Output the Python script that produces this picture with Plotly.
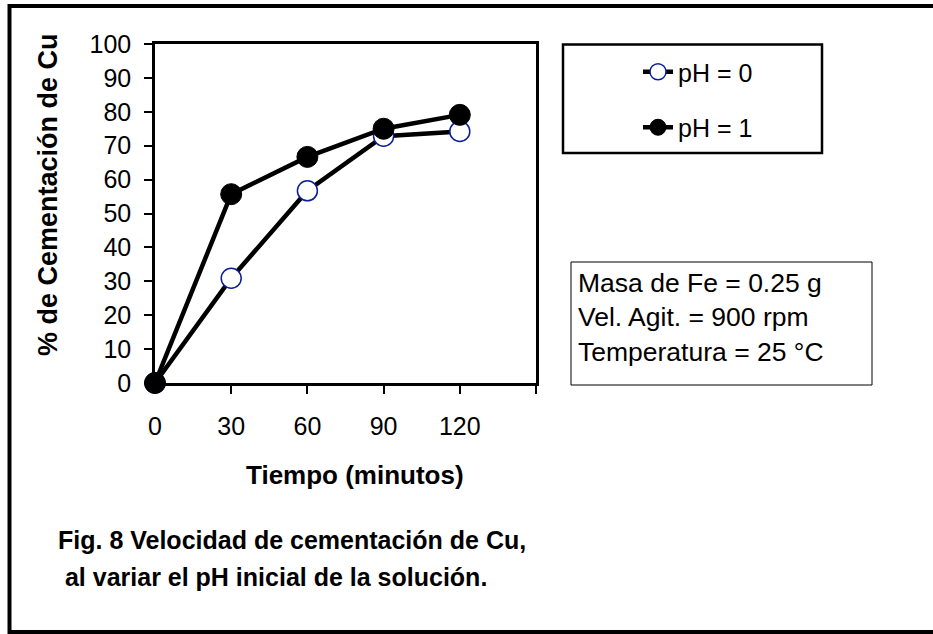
import plotly.graph_objects as go

tiempo = [0, 30, 60, 90, 120]
ph0 = [0, 30.9, 56.7, 72.8, 74.2]
ph1 = [0, 55.7, 66.7, 75.0, 79.1]
series_names = ["pH = 0", "pH = 1"]
x_ticks = [0, 30, 60, 90, 120, 150]
x_ticktext = ["0", "30", "60", "90", "120", ""]
y_ticks = list(range(0, 101, 10))

W, H = 933, 634
L, R, T, B = 155, 536, 44, 383  # plot area in pixels

def px(x):
    return (x - L) / (R - L)

def py(y):
    return (B - y) / (B - T)

FONT = "Arial, Liberation Sans, sans-serif"

fig = go.Figure()
fig.add_trace(go.Scatter(
    x=tiempo, y=ph0, name=series_names[0], mode="lines+markers",
    line=dict(color="black", width=4.5),
    marker=dict(symbol="circle", size=20, color="white",
                line=dict(color="#0a1e96", width=1.5)),
    legendgroup="a", cliponaxis=False))
fig.add_trace(go.Scatter(
    x=tiempo, y=ph1, name=series_names[1], mode="lines+markers",
    line=dict(color="black", width=4.5),
    marker=dict(symbol="circle", size=21, color="black",
                line=dict(color="black", width=1)),
    legendgroup="b", cliponaxis=False))

fig.update_xaxes(range=[0, 150], tickvals=x_ticks, ticktext=x_ticktext,
                 showgrid=False, zeroline=False, showline=True, mirror=True,
                 linecolor="black", linewidth=2.5, ticks="outside", ticklen=8,
                 tickwidth=2, tickcolor="black", ticklabelstandoff=11,
                 tickfont=dict(family=FONT, size=25, color="black"))
fig.update_yaxes(range=[0, 100], tickvals=y_ticks,
                 showgrid=False, zeroline=False, showline=True, mirror=True,
                 linecolor="black", linewidth=2.5, ticks="outside", ticklen=8,
                 tickwidth=2, tickcolor="black", ticklabelstandoff=8,
                 tickfont=dict(family=FONT, size=25, color="black"))

shapes = [
    # outer frame
    dict(type="rect", xref="paper", yref="paper",
         x0=px(9.5), x1=px(945), y0=py(632), y1=py(6),
         line=dict(color="black", width=4), layer="below"),
    # legend frame
    dict(type="rect", xref="paper", yref="paper",
         x0=px(563), x1=px(822), y0=py(153), y1=py(44.5),
         line=dict(color="black", width=2.5)),
    # conditions box
    dict(type="rect", xref="paper", yref="paper",
         x0=px(571), x1=px(872), y0=py(385), y1=py(262),
         line=dict(color="black", width=1)),
]

annotations = [
    dict(text="<b>% de Cementación de Cu</b>", xref="paper", yref="paper",
         x=px(48), y=py(195), textangle=-90, showarrow=False,
         xanchor="center", yanchor="middle",
         font=dict(family=FONT, size=27, color="black")),
    dict(text="<b>Tiempo (minutos)</b>", xref="paper", yref="paper",
         x=px(355), y=py(475), showarrow=False, xanchor="center", yanchor="middle",
         font=dict(family=FONT, size=26, color="black")),
    dict(text="<b>Fig. 8 Velocidad de cementación de Cu,</b>", xref="paper", yref="paper",
         x=px(56), y=py(540), showarrow=False, xanchor="left", yanchor="middle",
         font=dict(family=FONT, size=25, color="black")),
    dict(text="<b> al variar el pH inicial de la solución.</b>", xref="paper", yref="paper",
         x=px(56), y=py(577), showarrow=False, xanchor="left", yanchor="middle",
         font=dict(family=FONT, size=25, color="black")),
    dict(text="Masa de Fe = 0.25 g<br>Vel. Agit. = 900 rpm<br>Temperatura = 25 °C",
         xref="paper", yref="paper", x=px(576), y=py(317), showarrow=False,
         xanchor="left", yanchor="middle", align="left",
         font=dict(family=FONT, size=26.5, color="black")),
]

fig.update_layout(
    width=W, height=H,
    margin=dict(l=L, r=W - R, t=T, b=H - B, pad=0),
    paper_bgcolor="white", plot_bgcolor="white",
    showlegend=True,
    legend=dict(x=px(638), y=py(49), xanchor="left", yanchor="top",
                bgcolor="rgba(0,0,0,0)", borderwidth=0,
                traceorder="grouped", tracegroupgap=20,
                font=dict(family=FONT, size=25, color="black")),
    shapes=shapes, annotations=annotations,
)

fig.write_html("out.html")
